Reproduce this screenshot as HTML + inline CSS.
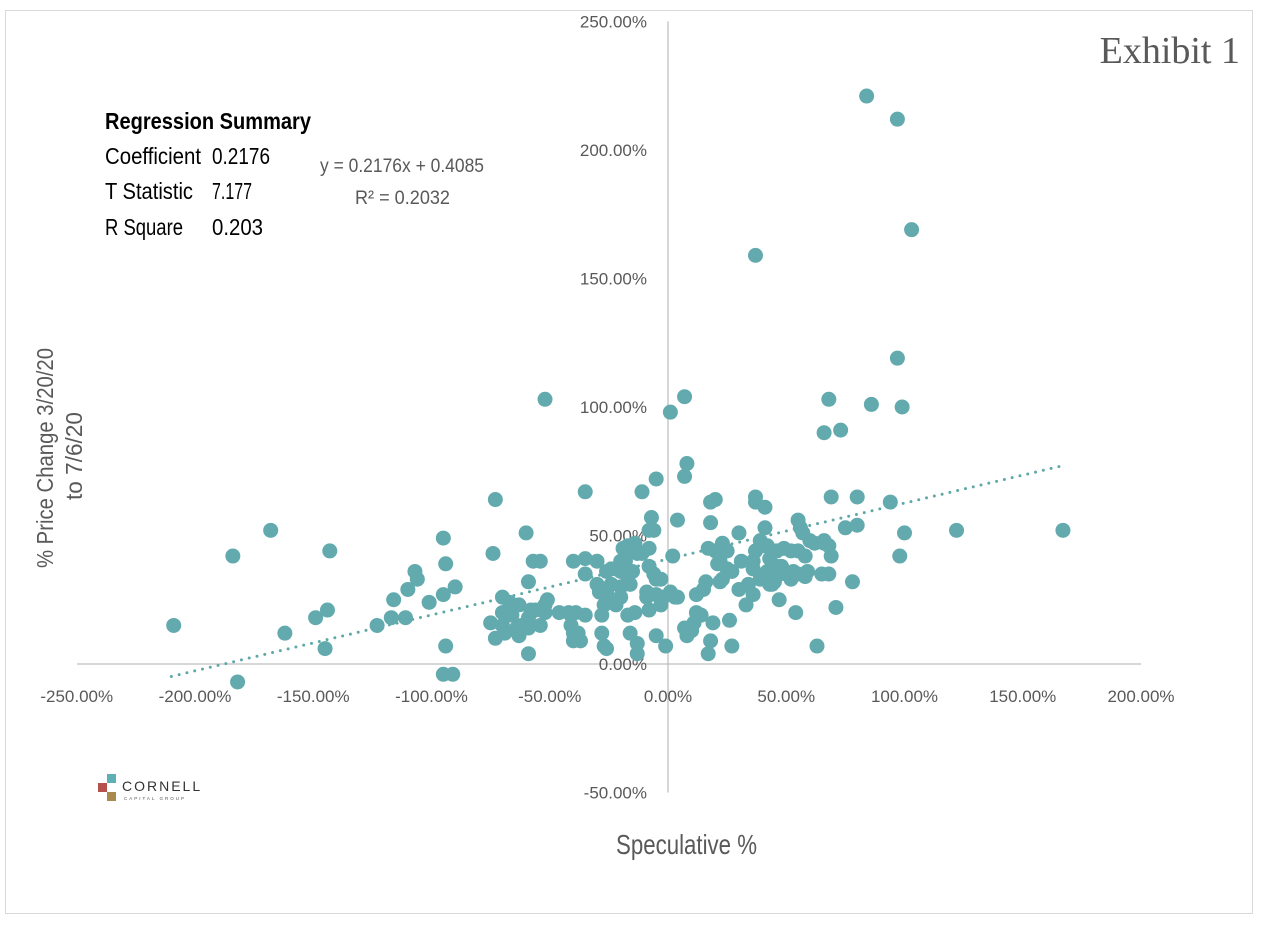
<!DOCTYPE html>
<html><head><meta charset="utf-8">
<style>
html,body{margin:0;padding:0;background:#fff;}
body{width:1261px;height:926px;position:relative;overflow:hidden;font-family:"Liberation Sans Narrow","Liberation Sans",sans-serif;}
svg{position:absolute;left:0;top:0;}
</style></head>
<body>
<svg id="chart" width="1261" height="926">
<rect x="5.5" y="10.5" width="1247" height="903" fill="#fff" stroke="#d9d9d9"/>
<g id="axes"></g>
<g id="ticks" font-size="17" fill="#595959"></g>
<g id="trend"></g>
<g id="points"></g>
<text x="1240" y="63" text-anchor="end" font-family="Liberation Serif, serif" font-size="38" fill="#595959">Exhibit 1</text>
<g font-size="23" fill="#000" lengthAdjust="spacingAndGlyphs">
<text x="105" y="129" font-weight="bold" textLength="206" lengthAdjust="spacingAndGlyphs">Regression Summary</text>
<text x="105" y="164" textLength="96" lengthAdjust="spacingAndGlyphs">Coefficient</text>
<text x="212" y="164" textLength="58" lengthAdjust="spacingAndGlyphs">0.2176</text>
<text x="105" y="199" textLength="88" lengthAdjust="spacingAndGlyphs">T Statistic</text>
<text x="212" y="199" textLength="40" lengthAdjust="spacingAndGlyphs">7.177</text>
<text x="105" y="235" textLength="78" lengthAdjust="spacingAndGlyphs">R Square</text>
<text x="212" y="235" textLength="51" lengthAdjust="spacingAndGlyphs">0.203</text>
</g>
<text x="320" y="172" textLength="164" lengthAdjust="spacingAndGlyphs" font-size="19" fill="#595959">y = 0.2176x + 0.4085</text>
<text x="355" y="204" textLength="95" lengthAdjust="spacingAndGlyphs" font-size="19" fill="#595959">R² = 0.2032</text>
<text transform="translate(53,568) rotate(-90)" textLength="220" lengthAdjust="spacingAndGlyphs" font-size="23" fill="#595959">% Price Change 3/20/20</text>
<text transform="translate(82,500) rotate(-90)" textLength="88" lengthAdjust="spacingAndGlyphs" font-size="23" fill="#595959">to 7/6/20</text>
<text x="616" y="854" textLength="141" lengthAdjust="spacingAndGlyphs" font-size="28" fill="#595959">Speculative %</text>
<g>
<rect x="107" y="774" width="9" height="9" fill="#5fb0b4"/>
<rect x="98" y="783" width="9" height="9" fill="#b5524e"/>
<rect x="107" y="792" width="9" height="9" fill="#a88a4e"/>
<text x="122" y="791" font-family="Liberation Sans, sans-serif" font-size="14" letter-spacing="2" fill="#333">CORNELL</text>
<text x="124" y="800" font-family="Liberation Sans, sans-serif" font-size="4.5" letter-spacing="2" fill="#555">CAPITAL GROUP</text>
</g>
</svg>
<script>
const xTicks=[-250,-200,-150,-100,-50,0,50,100,150,200];
const yTicks=[-50,0,50,100,150,200,250];
const xVals=[84,97,103,37,97,-52,7,1,86,99,68,66,73,8,7,-5,-11,-35,-73,37,37,41,69,80,94,20,18,30,41,55,56,75,80,100,122,167,98,69,78,71,63,27,17,18,10,8,12,-5,-13,-13,-1,-3,3,-8,-14,-17,-27,-26,-37,-40,-40,-39,-42,-46,-52,-52,-59,-60,-54,-57,-40,-30,-20,-19,-18,-6,-8,-11,-13,-14,-17,-18,-22,-26,-30,-29,-26,-24,-20,-16,-17,-20,-24,-15,-8,-5,-6,-9,-9,-5,-2,1,4,-3,2,4,-7,-8,18,17,20,22,23,25,21,25,27,31,36,37,39,40,42,43,46,48,46,49,52,55,57,60,62,58,66,66,68,59,53,52,55,58,47,42,40,41,43,45,39,36,34,36,30,33,44,47,54,50,65,68,23,22,16,15,12,14,11,19,26,7,-209,-184,-168,-162,-149,-145,-144,-143,-123,-117,-116,-111,-110,-107,-106,-101,-95,-95,-94,-90,-94,-95,-91,-182,-74,-75,-73,-70,-70,-67,-66,-70,-69,-64,-63,-61,-59,-58,-56,-51,-59,-62,-59,-54,-63,-41,-41,-38,-35,-28,-28,-27,-16,-20,-22,-25,-22,-35,-35];
const yVals=[221,212,169,159,119,103,104,98,101,100,103,90,91,78,73,72,67,67,64,65,63,61,65,65,63,64,63,51,53,56,53,53,54,51,52,52,42,42,32,22,7,7,4,9,13,11,20,11,8,4,7,23,26,21,20,19,23,6,9,9,12,20,20,20,23,20,32,51,40,40,40,40,40,45,44,52,45,43,43,47,46,40,37,36,31,28,28,31,30,31,34,36,37,36,38,33,35,28,26,27,26,28,26,33,42,56,57,52,55,45,44,40,47,44,39,37,36,40,40,44,48,46,46,41,38,38,44,45,44,44,51,48,47,42,47,48,46,36,36,33,35,34,35,36,34,33,31,32,33,37,31,27,29,23,31,25,20,35,35,35,33,32,32,29,27,19,16,16,17,14,15,42,52,12,18,6,21,44,15,18,25,18,29,36,33,24,27,49,39,30,7,-4,-4,-7,43,16,10,20,26,24,19,15,12,14,11,14,18,21,21,25,4,15,14,15,23,19,15,12,19,19,12,7,12,26,25,24,23,41,35];
const trendSlope=0.2176, trendIntercept=40.85, trendX=[-210,168];
const NS='http://www.w3.org/2000/svg';
const X=v=>668+v*2.365;
const Y=v=>664-v*2.57;
function mk(tag,attrs,parent){const e=document.createElementNS(NS,tag);for(const k in attrs)e.setAttribute(k,attrs[k]);parent.appendChild(e);return e;}
const axes=document.getElementById('axes');
let xl=mk('line',{x1:77,x2:1141,y1:Y(0),y2:Y(0),stroke:'#bfbfbf','stroke-width':1.3},axes);


let yl=mk('line',{x1:X(0),x2:X(0),y1:Y(250),y2:Y(-50),stroke:'#bfbfbf','stroke-width':1.3},axes);


const tg=document.getElementById('ticks');
xTicks.forEach(v=>{const t=mk('text',{x:X(v),y:702,'text-anchor':'middle'},tg);t.textContent=v.toFixed(2)+'%';

});
yTicks.forEach(v=>{const t=mk('text',{x:647,y:Y(v)+6,'text-anchor':'end'},tg);t.textContent=v.toFixed(2)+'%';

});
const tr=document.getElementById('trend');
const tl=mk('line',{x1:X(trendX[0]),y1:Y(trendSlope*trendX[0]+trendIntercept),x2:X(trendX[1]),y2:Y(trendSlope*trendX[1]+trendIntercept),stroke:'#5fa8a8','stroke-width':3,'stroke-dasharray':'0 8','stroke-linecap':'round'},tr);


const pg=document.getElementById('points');
xVals.forEach((x,i)=>{const c=mk('circle',{cx:X(x),cy:Y(yVals[i]),r:7.5,fill:'#62aaad'},pg);

});
</script>
</body></html>
